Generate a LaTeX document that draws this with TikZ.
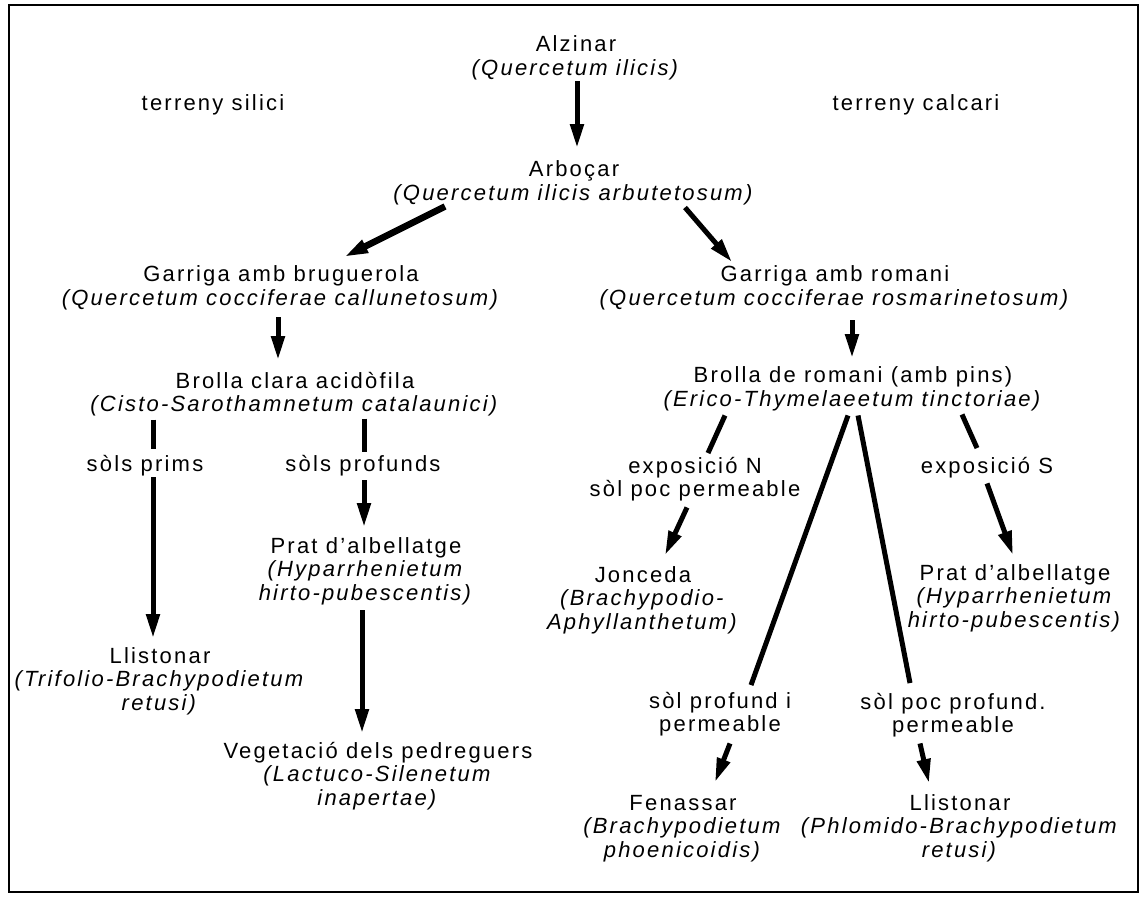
\documentclass[tikz,border=0pt]{standalone}
\usepackage{fontspec}
\setmainfont{Liberation Sans}[LetterSpace=10.0]
\usetikzlibrary{arrows.meta}
\newcommand\up[1]{\strut #1}
\newcommand\lat[1]{\strut\textit{#1}}
\tikzset{
  lbl/.style={anchor=north, inner sep=0pt, align=center, font=\fontsize{22}{22}\selectfont},
  lbll/.style={lbl, font=\fontsize{22}{23.5}\selectfont},
  conn/.style={line width=5pt},
  arr/.style={conn, -{Triangle[length=24pt,width=13pt]}},
}
\begin{document}
\begin{tikzpicture}[x=1pt,y=-1pt]
\useasboundingbox (0,0) rectangle (1142,900);
\draw[line width=2.5pt] (9,5) rectangle (1138,892);

% nodes
\node[lbl] (alz) at (576,35.6) {\up{Alzinar}\\\lat{(Quercetum ilicis)}};
\node[lbl] (tsil) at (213,94.6) {\up{terreny silici}};
\node[lbl] (tcal) at (916,94.6) {\up{terreny calcari}};
\node[lbl] (arb) at (574,160.6) {\up{Arboçar}\\\lat{(Quercetum ilicis arbutetosum)}};
\node[lbl] (gbru) at (281,265.6) {\up{Garriga amb bruguerola}\\\lat{(Quercetum cocciferae callunetosum)}};
\node[lbl] (grom) at (835,265.6) {\up{Garriga amb romani}\\\lat{(Quercetum cocciferae rosmarinetosum)}};
\node[lbl] (bcla) at (295,371.6) {\up{Brolla clara acidòfila}\\\lat{(Cisto-Sarothamnetum catalaunici)}};
\node[lbl] (brom) at (853,366.6) {\up{Brolla de romani (amb pins)}\\\lat{(Erico-Thymelaeetum tinctoriae)}};

\node[lbll] (sprim) at (145,454.55) {\up{sòls prims}};
\node[lbll] (sprof) at (363,454.55) {\up{sòls profunds}};
\node[lbll] (prat1) at (366,536.55) {\up{Prat d'albellatge}\\\lat{(Hyparrhenietum}\\\lat{hirto-pubescentis)}};
\node[lbll] (llist1) at (160,646.55) {\up{Llistonar}\\\lat{(Trifolio-Brachypodietum}\\\lat{retusi)}};
\node[lbll] (veg) at (378,741.55) {\up{Vegetació dels pedreguers}\\\lat{(Lactuco-Silenetum}\\\lat{inapertae)}};

\node[lbll] (expN) at (695,456.55) {\up{exposició N}\\\up{sòl poc permeable}};
\node[lbll] (expS) at (987,456.55) {\up{exposició S}};
\node[lbll] (jonc) at (643,565.55) {\up{Jonceda}\\\lat{(Brachypodio-}\\\lat{Aphyllanthetum)}};
\node[lbll] (prat2) at (1015,563.55) {\up{Prat d'albellatge}\\\lat{(Hyparrhenietum}\\\lat{hirto-pubescentis)}};
\node[lbll] (sprofi) at (720,691.55) {\up{sòl profund i}\\\up{permeable}};
\node[lbll] (spocp) at (953,692.55) {\up{sòl poc profund.}\\\up{permeable}};
\node[lbll] (fen) at (683,793.55) {\up{Fenassar}\\\lat{(Brachypodietum}\\\lat{phoenicoidis)}};
\node[lbll] (llist2) at (960,793.55) {\up{Llistonar}\\\lat{(Phlomido-Brachypodietum}\\\lat{retusi)}};

% connectors
\draw[arr] ([shift={(1,-0.6)}]alz.south) -- ([shift={(3,-12.6)}]arb.north);
\draw[arr, line width=6.5pt] ([shift={(-129,-0.6)}]arb.south) -- ([shift={(63,-8.6)}]gbru.north);
\draw[arr] ([shift={(111,0.4)}]arb.south) -- ([shift={(-103,-3.6)}]grom.north);
\draw[arr] ([shift={(-3,5.4)}]gbru.south) -- ([shift={(-17,-11.6)}]bcla.north);
\draw[arr] ([shift={(17,8.4)}]grom.south) -- ([shift={(-1,-8.6)}]brom.north);

\draw[conn] ([shift={(-142,1.4)}]bcla.south) -- ([shift={(8,-5.5)}]sprim.north);
\draw[arr] ([shift={(8,-1)}]sprim.south) -- ([shift={(-7,-8.5)}]llist1.north);
\draw[conn] ([shift={(69,0.4)}]bcla.south) -- ([shift={(1,-2.5)}]sprof.north);
\draw[arr] ([shift={(1,2)}]sprof.south) -- ([shift={(-2,-9.5)}]prat1.north);
\draw[arr] ([shift={(-4,3)}]prat1.south) -- ([shift={(-16,-8.5)}]veg.north);

\draw[conn] ([shift={(-128,2.4)}]brom.south) -- ([shift={(13,-3.5)}]expN.north);
\draw[arr] ([shift={(-8,3.5)}]expN.south) -- ([shift={(22,-10.5)}]jonc.north);
\draw[conn] ([shift={(-5,2.4)}]brom.south) -- ([shift={(31,-6.5)}]sprofi.north);
\draw[arr] ([shift={(10,4.5)}]sprofi.south) -- ([shift={(32,-11.5)}]fen.north);
\draw[conn] ([shift={(5,2.4)}]brom.south) -- ([shift={(-43,-9.5)}]spocp.north);
\draw[arr] ([shift={(-33,3.5)}]spocp.south) -- ([shift={(-31,-10.5)}]llist2.north);
\draw[conn] ([shift={(109,1.4)}]brom.south) -- ([shift={(-10,-8.5)}]expS.north);
\draw[arr] ([shift={(0,3)}]expS.south) -- ([shift={(-2,-8.5)}]prat2.north);
\end{tikzpicture}
\end{document}
